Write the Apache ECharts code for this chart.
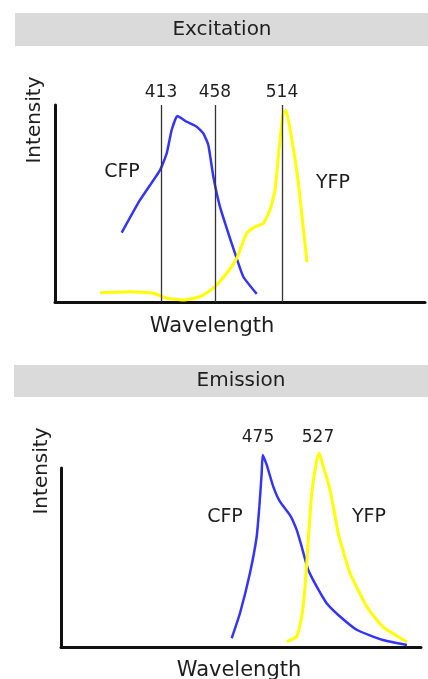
<!DOCTYPE html>
<html>
<head>
<meta charset="utf-8">
<script src="https://cdn.jsdelivr.net/npm/echarts/dist/echarts.min.js"></script>
<style>
html, body { margin: 0; padding: 0; background: #fff; }
#main { width: 428px; height: 679px; }
</style>
</head>
<body>
<div id="main"></div>
<script>
// excitation spectra (wavelength nm, relative intensity)
var excCfp = [[380.2, 35.2], [395.5, 51.8], [412.2, 67.0], [417.8, 75.5], [421.9, 87.3], [426.6, 94.4],
    [434.5, 91.5], [442.8, 89.0], [448.3, 85.6], [452.5, 79.7], [456.7, 63.6], [462.2, 48.4],
    [469.2, 34.9], [474.8, 24.7], [481.7, 12.8], [492.9, 4.1]];
var excYfp = [[362.1, 4.7], [387.1, 5.2], [406.6, 4.4], [417.8, 1.9], [431.6, 1.0], [445.6, 2.7],
    [456.7, 7.0], [467.8, 14.6], [476.2, 22.2], [484.5, 34.9], [491.5, 38.2], [498.4, 39.9],
    [504, 46.7], [508.2, 56.9], [511.5, 77.2], [514.8, 94.9], [517.3, 97.5], [522.3, 82.2],
    [527.4, 61.9], [531.5, 39.1], [534.9, 20.3]];
var excLines = [413, 458, 514];

// emission spectra
var emCfp = [[447.8, 4.9], [455.3, 19.0], [464.2, 41.3], [470.2, 61.6], [472.6, 78.4], [474.7, 97.0],
    [475.6, 107.3], [479.2, 101.7], [485.1, 89.6], [491.1, 81.2], [500.1, 73.7], [506.1, 65.4],
    [510.6, 56.0], [516.5, 43.0], [524.1, 33.7], [533.0, 24.4], [543.4, 17.9], [560.2, 9.5],
    [583.5, 3.9], [605, 1.1]];
var emYfp = [[497.2, 3.0], [506.1, 5.8], [510.6, 16.9], [513.6, 33.7], [516.5, 59.8], [519.6, 85.9],
    [524.1, 104.5], [526.4, 108.2], [530.0, 100.7], [534.5, 91.5], [539.0, 78.4], [543.4, 63.5],
    [553.9, 41.3], [569.2, 22.3], [583.5, 11.2], [605, 2.8]];
var emPeaks = [475, 527];

var blue = '#3434f4';
var yellow = '#ffff00';
var ink = '#1e1e1e';
var font = 'DejaVu Sans';

function txt(x, y, s, size, rot) {
    return {
        type: 'text', x: x, y: y, rotation: rot || 0,
        style: { text: s, fill: ink, font: size + 'px "' + font + '"', align: 'center', verticalAlign: 'middle' }
    };
}

function axisX(idx, min, max) {
    return {
        type: 'value', gridIndex: idx, min: min, max: max,
        axisLine: { show: true, onZero: false, lineStyle: { color: '#111', width: 3 } },
        axisTick: { show: false }, axisLabel: { show: false }, splitLine: { show: false }
    };
}
function axisY(idx) {
    return {
        type: 'value', gridIndex: idx, min: 0, max: 100,
        axisLine: { show: true, onZero: false, lineStyle: { color: '#111', width: 3 } },
        axisTick: { show: false }, axisLabel: { show: false }, splitLine: { show: false }
    };
}

var option = {
    animation: false,
    backgroundColor: '#fff',
    grid: [
        { left: 55, top: 105, width: 370, height: 197 },
        { left: 61, top: 468, width: 360, height: 179 }
    ],
    xAxis: [axisX(0, 324.5, 633.4), axisX(1, 294.7, 617.6)],
    yAxis: [axisY(0), axisY(1)],
    graphic: [
        { type: 'rect', shape: { x: 15, y: 13, width: 413, height: 33 }, style: { fill: '#dadada' } },
        { type: 'rect', shape: { x: 14, y: 365, width: 414, height: 32 }, style: { fill: '#dadada' } },
        txt(222, 30, 'Excitation', 20),
        txt(241, 381, 'Emission', 20),
        txt(35, 120, 'Intensity', 20, Math.PI / 2),
        txt(42, 471, 'Intensity', 20, Math.PI / 2),
        txt(212, 327, 'Wavelength', 21),
        txt(239, 671, 'Wavelength', 21),
        txt(122, 172, 'CFP', 19),
        txt(333, 183, 'YFP', 19),
        txt(225, 517, 'CFP', 19),
        txt(369, 517, 'YFP', 19)
    ],
    series: [
        {
            name: 'CFP excitation', type: 'line', xAxisIndex: 0, yAxisIndex: 0,
            data: excCfp, showSymbol: false, smooth: 0.15, clip: false,
            lineStyle: { color: blue, width: 2.5 },
            markLine: {
                silent: true, symbol: ['none', 'none'],
                lineStyle: { color: '#333', width: 1.3, type: 'solid' },
                label: { show: true, position: 'end', formatter: '{c}', color: ink, fontSize: 17, fontFamily: font, distance: 4 },
                data: excLines.map(function (v) { return { xAxis: v }; })
            }
        },
        {
            name: 'YFP excitation', type: 'line', xAxisIndex: 0, yAxisIndex: 0,
            data: excYfp, showSymbol: false, smooth: 0.15, clip: false,
            lineStyle: { color: yellow, width: 3 }
        },
        {
            name: 'CFP emission', type: 'line', xAxisIndex: 1, yAxisIndex: 1,
            data: emCfp, showSymbol: false, smooth: 0.15, clip: false,
            lineStyle: { color: blue, width: 2.5 },
            markPoint: {
                symbol: 'rect', symbolSize: 1, itemStyle: { color: 'rgba(0,0,0,0)' },
                label: { show: true, formatter: '{b}', color: ink, fontSize: 17, fontFamily: font, offset: [-4, -30] },
                data: [{ name: String(emPeaks[0]), coord: [emPeaks[0], 100] }]
            }
        },
        {
            name: 'YFP emission', type: 'line', xAxisIndex: 1, yAxisIndex: 1,
            data: emYfp, showSymbol: false, smooth: 0.15, clip: false,
            lineStyle: { color: yellow, width: 3 },
            markPoint: {
                symbol: 'rect', symbolSize: 1, itemStyle: { color: 'rgba(0,0,0,0)' },
                label: { show: true, formatter: '{b}', color: ink, fontSize: 17, fontFamily: font, offset: [-2, -30] },
                data: [{ name: String(emPeaks[1]), coord: [emPeaks[1], 100] }]
            }
        }
    ]
};

var myChart = echarts.init(document.getElementById('main'));
myChart.setOption(option);
</script>
</body>
</html>
